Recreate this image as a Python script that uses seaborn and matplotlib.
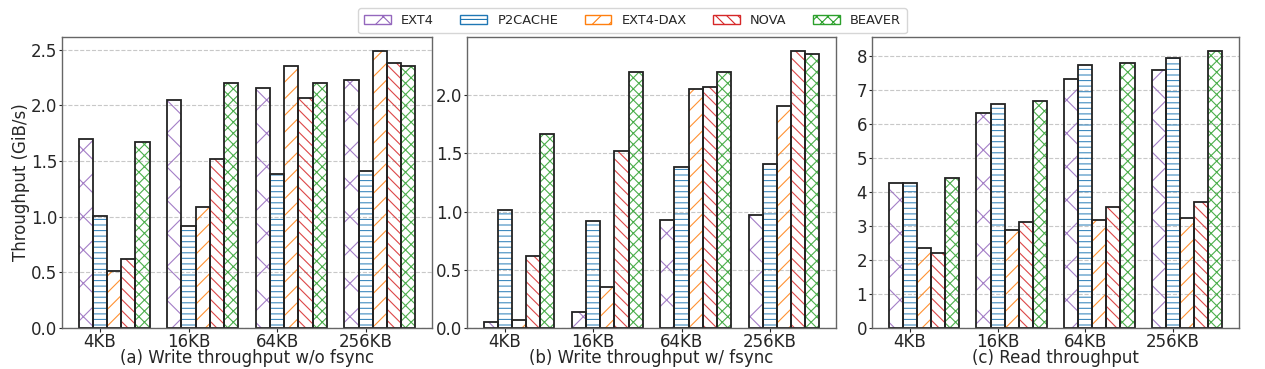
import numpy as np
import pandas as pd
import matplotlib
matplotlib.use("Agg")
import matplotlib.pyplot as plt
from matplotlib.patches import Patch
from matplotlib.ticker import MultipleLocator
import seaborn as sns

sizes = ["4KB", "16KB", "64KB", "256KB"]
systems = ["EXT4", "P2CACHE", "EXT4-DAX", "NOVA", "BEAVER"]

write_nofsync = {
    "EXT4":     [1.70, 2.05, 2.16, 2.23],
    "P2CACHE":  [1.01, 0.92, 1.38, 1.41],
    "EXT4-DAX": [0.51, 1.09, 2.35, 2.49],
    "NOVA":     [0.62, 1.52, 2.07, 2.38],
    "BEAVER":   [1.67, 2.20, 2.20, 2.35],
}
write_fsync = {
    "EXT4":     [0.05, 0.14, 0.93, 0.97],
    "P2CACHE":  [1.01, 0.92, 1.38, 1.41],
    "EXT4-DAX": [0.07, 0.35, 2.05, 1.91],
    "NOVA":     [0.62, 1.52, 2.07, 2.38],
    "BEAVER":   [1.67, 2.20, 2.20, 2.35],
}
read_tp = {
    "EXT4":     [4.27, 6.32, 7.30, 7.58],
    "P2CACHE":  [4.26, 6.59, 7.71, 7.92],
    "EXT4-DAX": [2.35, 2.89, 3.16, 3.22],
    "NOVA":     [2.21, 3.10, 3.55, 3.71],
    "BEAVER":   [4.41, 6.66, 7.79, 8.14],
}
titles = ["(a) Write throughput w/o fsync", "(b) Write throughput w/ fsync", "(c) Read throughput"]
ytick_steps = [0.5, 0.5, 1]

colors = ["#9467bd", "#1f77b4", "#ff7f0e", "#d62728", "#2ca02c"]
hatches = ["x", "---", "//", "\\\\\\", "xxx"]

sns.set_style("white")
plt.rcParams["font.family"] = ["DejaVu Sans"]
plt.rcParams["hatch.linewidth"] = 0.8

fig = plt.figure(figsize=(12.65, 3.69), dpi=100)
lefts = [62, 467, 872]
rights = [432, 836, 1239]
top_px, bot_px = 37, 328
W, H = 1265, 369

def to_df(d):
    rows = []
    for s in systems:
        for sz, v in zip(sizes, d[s]):
            rows.append({"size": sz, "fs": s, "value": v})
    return pd.DataFrame(rows)

for k, (data, title) in enumerate(zip([write_nofsync, write_fsync, read_tp], titles)):
    ax = fig.add_axes([lefts[k] / W, 1 - bot_px / H, (rights[k] - lefts[k]) / W, (bot_px - top_px) / H])
    df = to_df(data)
    ax.set_axisbelow(True)
    ax.yaxis.grid(True, linestyle="--", color="#c8c8c8", linewidth=0.8)
    sns.barplot(data=df, x="size", y="value", hue="fs", hue_order=systems, order=sizes,
                palette=colors, fill=False, width=0.8, errorbar=None, legend=False, ax=ax)
    for i, cont in enumerate(ax.containers):
        for p in cont.patches:
            p.set_hatch(hatches[i])
            p.set_edgecolor(colors[i])
            p.set_alpha(0.85)
            p.set_linewidth(0)
    sns.barplot(data=df, x="size", y="value", hue="fs", hue_order=systems, order=sizes,
                palette=["#222222"] * 5, fill=False, width=0.8, errorbar=None, legend=False,
                linewidth=1.3, ax=ax)
    bw = 0.8 / len(systems)
    ax.set_xlim(-0.4 - 0.19, 3.4 + 0.19)
    ax.set_xticks(np.arange(len(sizes)) - bw)
    ax.set_xticklabels(sizes, fontsize=12)
    ax.tick_params(axis="x", length=3, width=0.8, bottom=True, pad=0.5)
    ax.tick_params(axis="y", labelsize=12, length=2.5, width=0.8, left=True, pad=1)
    ymax = max(max(v) for v in data.values())
    ax.set_ylim(0, ymax * 1.05)
    ax.yaxis.set_major_locator(MultipleLocator(ytick_steps[k]))
    ax.set_xlabel(title, fontsize=12, labelpad=-1)
    if k == 0:
        ax.set_ylabel("Throughput (GiB/s)", fontsize=12, labelpad=0.5)
    else:
        ax.set_ylabel("")
    for sp in ax.spines.values():
        sp.set_visible(True)
        sp.set_color("#666666")
        sp.set_linewidth(1.0)

handles = [Patch(facecolor="white", edgecolor=c, hatch=h, label=s)
           for s, c, h in zip(systems, colors, hatches)]
fig.legend(handles=handles, loc="upper center", bbox_to_anchor=(0.5, 0.995), ncol=5,
           fontsize=9.4, frameon=True, handlelength=2.05, columnspacing=2.0,
           borderpad=0.45, handletextpad=0.8)

fig.savefig("out.png", dpi=100)
